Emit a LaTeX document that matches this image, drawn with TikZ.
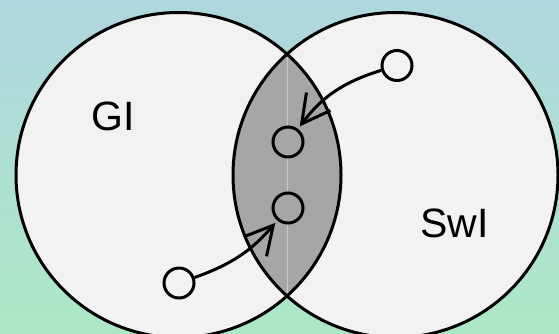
\documentclass[tikz,border=0pt]{standalone}
\usepackage{fontspec}
\setmainfont{Liberation Sans}
\usetikzlibrary{arrows.meta}
\definecolor{skytop}{RGB}{176,214,223}
\definecolor{mintbot}{RGB}{172,232,197}
\definecolor{setfill}{RGB}{242,242,242}
\definecolor{lensfill}{RGB}{166,166,166}
\definecolor{seamline}{RGB}{202,202,202}
\begin{document}
\begin{tikzpicture}[x=1pt, y=-1pt, line width=3pt,
    elem/.style={circle, draw, minimum size=30pt, inner sep=0pt},
    arr/.style={-{Straight Barb[length=28pt, width=30pt]}, shorten >=3pt},
    lbl/.style={inner sep=0pt, font=\fontsize{41}{41}\selectfont}]
  \useasboundingbox (0,0) rectangle (559,333);
  \shade[top color=skytop, bottom color=mintbot] (0,0) rectangle (559,333);
  \coordinate (GI) at (178.5,175);
  \coordinate (SwI) at (395.5,175);
  % the two sets, then their overlap
  \fill[setfill] (GI) circle[radius=162.5] (SwI) circle[radius=162.5];
  \begin{scope}
    \clip (GI) circle[radius=162.5];
    \fill[lensfill] (SwI) circle[radius=162.5];
  \end{scope}
  \draw[seamline, line width=1pt] (287,54) -- (287,296);
  \draw (GI) circle[radius=162.5] (SwI) circle[radius=162.5];
  \node[lbl] (GItext) at (113,116) {GI};
  \node[lbl] (SwItext) at (454.5,223) {SwI};
  % elements
  \node[elem, fill=setfill] (e1) at (397,65.5) {};
  \node[elem, fill=lensfill] (e2) at (288,142) {};
  \node[elem, fill=lensfill] (e3) at (288,208) {};
  \node[elem, fill=setfill] (e4) at (179,283) {};
  \draw[arr] (e1) to[bend right=18] (e2);
  \draw[arr] (e4) to[bend right=15] (e3);
\end{tikzpicture}
\end{document}
